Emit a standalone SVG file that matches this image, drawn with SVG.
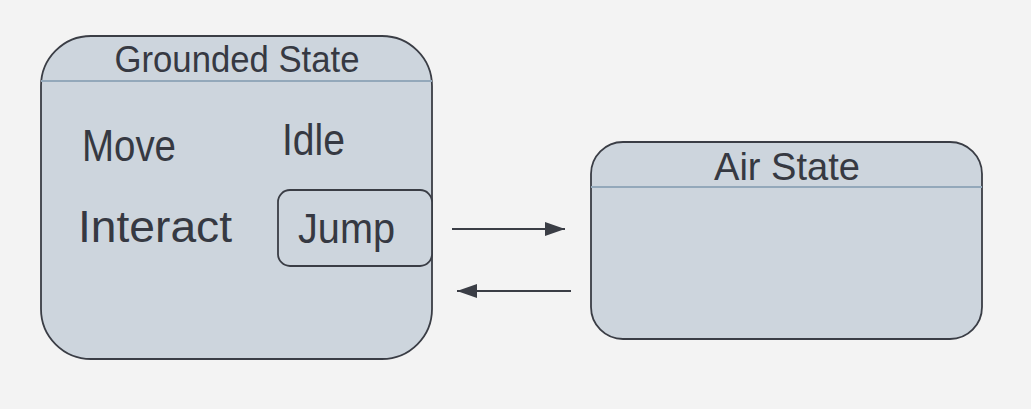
<svg xmlns="http://www.w3.org/2000/svg" width="1031" height="409" viewBox="0 0 1031 409">
  <style>
    .box { fill: #cdd5dd; stroke: #3a3d45; stroke-width: 1.8; }
    .hdr { stroke: #93a8ba; stroke-width: 2; }
    .t { font-family: "Liberation Sans", "DejaVu Sans", sans-serif; fill: #363942; }
    .conn { stroke: #3a3d45; stroke-width: 1.8; fill: none; }
  </style>
  <defs>
    <marker id="arr" viewBox="0 0 20 16" refX="20" refY="8" markerWidth="20" markerHeight="16" markerUnits="userSpaceOnUse" orient="auto">
      <path d="M0,1 L20,8 L0,15 Z" fill="#3a3d45"/>
    </marker>
  </defs>
  <rect width="1031" height="409" fill="#f3f3f3"/>

  <g id="grounded-state">
    <rect class="box" x="41" y="36" width="391" height="323" rx="50" ry="50"/>
    <line class="hdr" x1="41" y1="81" x2="432" y2="81"/>
    <text class="t" x="237" y="72" font-size="37" text-anchor="middle" textLength="245" lengthAdjust="spacingAndGlyphs">Grounded State</text>
    <text class="t" x="82" y="161" font-size="44" textLength="94" lengthAdjust="spacingAndGlyphs">Move</text>
    <text class="t" x="282" y="155" font-size="44" textLength="63" lengthAdjust="spacingAndGlyphs">Idle</text>
    <text class="t" x="78" y="242" font-size="44" textLength="154" lengthAdjust="spacingAndGlyphs">Interact</text>
  </g>

  <g id="jump">
    <rect class="box" x="278" y="190" width="154" height="76" rx="12" ry="12"/>
    <text class="t" x="298" y="243" font-size="42" textLength="97" lengthAdjust="spacingAndGlyphs">Jump</text>
  </g>

  <g id="air-state">
    <rect class="box" x="591" y="142" width="391" height="197" rx="32" ry="32"/>
    <line class="hdr" x1="591" y1="187" x2="982" y2="187"/>
    <text class="t" x="787" y="180" font-size="39" text-anchor="middle" textLength="146" lengthAdjust="spacingAndGlyphs">Air State</text>
  </g>

  <g id="connectors">
    <line class="conn" x1="452" y1="229" x2="565" y2="229" marker-end="url(#arr)"/>
    <line class="conn" x1="571" y1="291" x2="457" y2="291" marker-end="url(#arr)"/>
  </g>
</svg>
